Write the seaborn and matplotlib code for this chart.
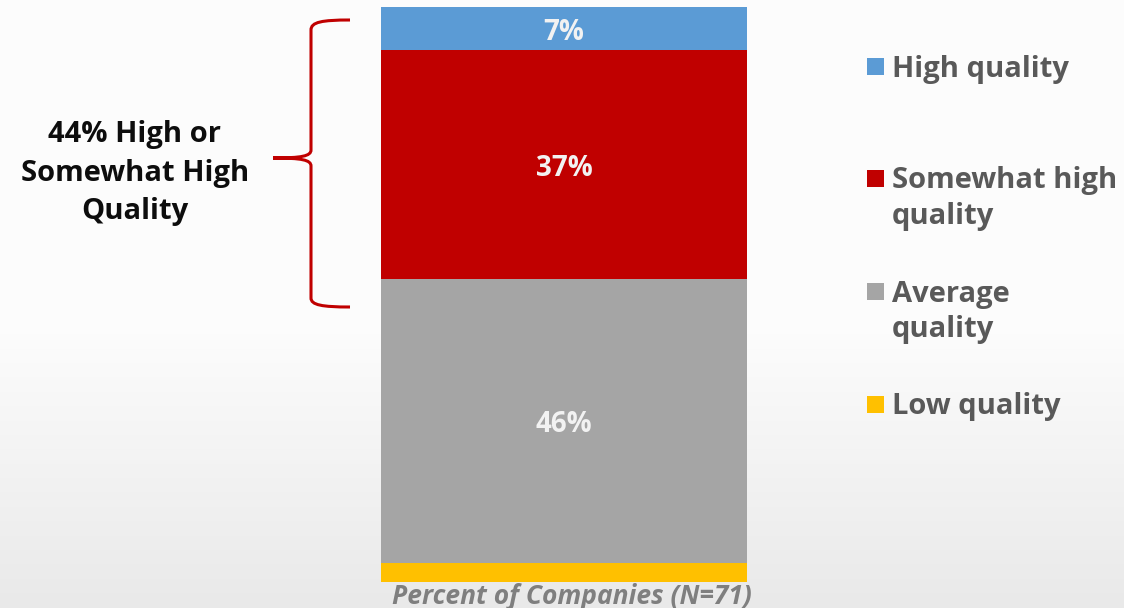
import numpy as np
import matplotlib
matplotlib.use("Agg")
import matplotlib.pyplot as plt
from matplotlib.path import Path
from matplotlib.patches import PathPatch, Rectangle
import seaborn as sns

# Survey shares, stacked bottom to top
categories = ["Low quality", "Average quality", "Somewhat high quality", "High quality"]
shares = [3, 46, 37, 7]
colors = ["#FFC000", "#A5A5A5", "#C00000", "#5B9BD5"]
legend_labels = ["High quality", "Somewhat high\nquality", "Average\nquality", "Low quality"]
legend_colors = ["#5B9BD5", "#C00000", "#A5A5A5", "#FFC000"]
labelled = [False, True, True, True]
group = ["Companies"]
x_title = "Percent of Companies (N=71)"
bracket_text = "44% High or\nSomewhat High\nQuality"

sns.set_theme(style="white")
plt.rcParams["font.family"] = ["Open Sans", "DejaVu Sans"]

W, H = 1124, 608
fig = plt.figure(figsize=(W / 100, H / 100), dpi=100)

# Soft vertical background gradient
bg = fig.add_axes([0, 0, 1, 1], zorder=0)
t = np.linspace(0, 1, H)
v = np.where(t < 0.55, 252, 252 - (252 - 233) * (t - 0.55) / 0.45) / 255.0
img = np.repeat(v[:, None], 4, axis=1)
bg.imshow(np.dstack([img, img, img]), aspect="auto", extent=[0, 1, 0, 1])
bg.set_axis_off()

# Stacked bar drawn as overlapping cumulative bars
ax = fig.add_axes([381 / W, 26 / H, 366 / W, 575 / H], zorder=1)
ax.patch.set_alpha(0)
tops = np.cumsum(shares)
for top, col in sorted(zip(tops, colors), key=lambda p: -p[0]):
    sns.barplot(x=group, y=[top], color=col, width=1.0, saturation=1,
                edgecolor="none", linewidth=0, ax=ax)
ax.set_xlim(-0.5, 0.5)
ax.set_ylim(0, tops[-1])
ax.set_axis_off()

bottoms = tops - np.array(shares)
for b, s, show in zip(bottoms, shares, labelled):
    if show:
        ax.text(0, b + s / 2, f"{s}%", ha="center", va="center_baseline",
                color="#F2F2F2", fontsize=20, fontweight="bold")

# Overlay in pixel coordinates for annotations
ov = fig.add_axes([0, 0, 1, 1], zorder=2)
ov.patch.set_alpha(0)
ov.set_xlim(0, W)
ov.set_ylim(H, 0)
ov.set_axis_off()

# Curly bracket
verts = [
    (350, 20), (322, 20), (311, 22), (311, 30),
    (311, 150),
    (311, 156), (302, 158), (273, 158),
    (302, 158), (311, 160), (311, 166),
    (311, 298),
    (311, 305), (322, 307), (350, 307),
]
codes = [Path.MOVETO, Path.CURVE4, Path.CURVE4, Path.CURVE4,
         Path.LINETO,
         Path.CURVE4, Path.CURVE4, Path.CURVE4,
         Path.CURVE4, Path.CURVE4, Path.CURVE4,
         Path.LINETO,
         Path.CURVE4, Path.CURVE4, Path.CURVE4]
ov.add_patch(PathPatch(Path(verts, codes), facecolor="none",
                       edgecolor="#C00000", lw=2.2, capstyle="butt"))

ov.text(135, 173, bracket_text, ha="center", va="center", multialignment="center",
        fontsize=21, fontweight="bold", color="#0D0D0D", linespacing=1.42)

# Legend
marker_y = [66.7, 178, 291.7, 404]
for yc, lab, col in zip(marker_y, legend_labels, legend_colors):
    ov.add_patch(Rectangle((867, yc - 8.5), 17, 17, facecolor=col, edgecolor="none"))
    ov.text(892, yc - 12, lab, ha="left", va="top", fontsize=21,
            fontweight="bold", color="#595959", linespacing=1.30)

ov.text(572, 596, x_title, ha="center", va="center", fontsize=19,
        fontweight="bold", fontstyle="italic", color="#7F7F7F")

fig.savefig("out.png", dpi=100)
